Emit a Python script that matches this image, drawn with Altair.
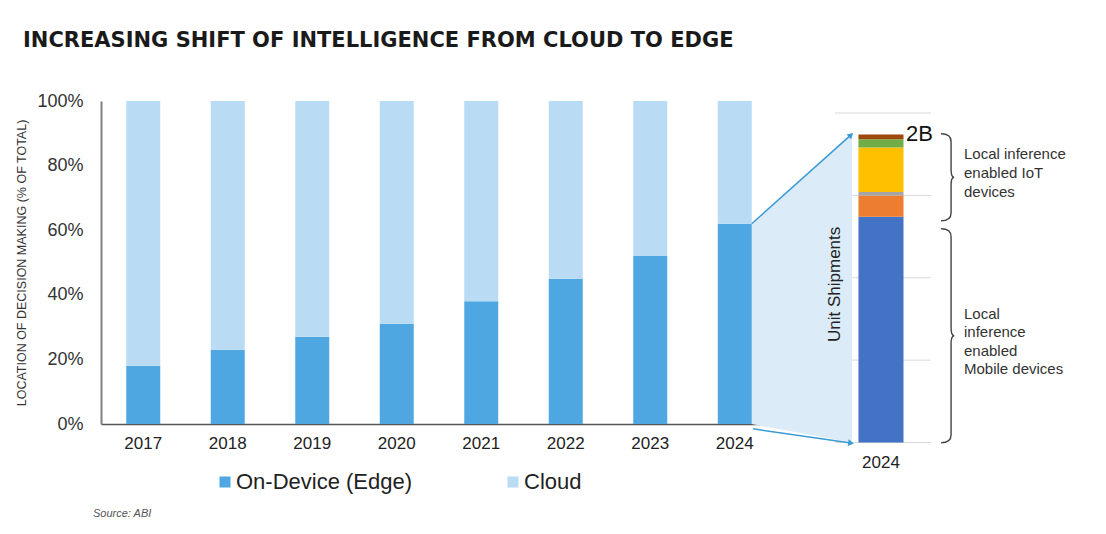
import altair as alt
import pandas as pd

# ---------------- data ----------------
years = ["2017", "2018", "2019", "2020", "2021", "2022", "2023", "2024"]
edge_share = [18, 23, 27, 31, 38, 45, 52, 62]
cloud_share = [82, 77, 73, 69, 62, 55, 48, 38]
series = ["On-Device (Edge)", "Cloud"]
y_ticks = [0, 20, 40, 60, 80, 100]

seg_names = ["Mobile devices", "IoT group 1", "IoT group 2", "IoT group 3", "IoT group 4", "IoT group 5"]
seg_values = [1.37, 0.13, 0.02, 0.27, 0.05, 0.03]
inset_grid = [0, 0.5, 1.0, 1.5, 2.0]
inset_year = "2024"
total_label = "2B"
iot_label = "Local inference\nenabled IoT\ndevices"
mobile_label = "Local\ninference\nenabled\nMobile devices"
inset_axis_title = "Unit Shipments"
source_text = "Source: ABI"
title_text = "INCREASING SHIFT OF INTELLIGENCE FROM CLOUD TO EDGE"
y_title = "LOCATION OF DECISION MAKING (% OF TOTAL)"

# ---------------- styles / layout ----------------
series_colors = ["#4ea7e1", "#b9dbf3"]
seg_colors = ["#4472c4", "#ed7d31", "#a5a5a5", "#ffc000", "#70ad47", "#9e480e"]
FONT = "Liberation Sans"
W, H = 676, 323
PAD_INNER, PAD_OUTER = 0.598, 0.299
n = len(years)
bar_right = n - 1 + PAD_OUTER + (1 - PAD_INNER)
INSET_X = (8.964, 9.497)
INSET_GRID_X = (8.686, 9.822)
INSET_RANGE = [341.5, 12]
SHADE_RIGHT = 8.888
ARROW_TIP = 8.876

xs = alt.Scale(domain=[0, n], nice=False, zero=False)
ys = alt.Scale(domain=[0, 100], nice=False)
ry = alt.Scale(domain=[0, 2.0], range=INSET_RANGE, nice=False)

# main table
rows = []
for yr, e, c in zip(years, edge_share, cloud_share):
    rows.append({"year": yr, "series": series[0], "start": 0, "end": e})
    rows.append({"year": yr, "series": series[1], "start": e, "end": e + c})
main_df = pd.DataFrame(rows)

bars = alt.Chart(main_df).mark_bar().encode(
    x=alt.X("year:N", sort=years,
            scale=alt.Scale(paddingInner=PAD_INNER, paddingOuter=PAD_OUTER),
            axis=alt.Axis(title=None, labelAngle=0, labelFontSize=17, labelFont=FONT,
                          labelColor="#222", labelPadding=11, ticks=False,
                          domainColor="#555", domainWidth=1.5)),
    y=alt.Y("start:Q", scale=ys,
            axis=alt.Axis(values=y_ticks, labelExpr="datum.value + '%'", grid=False,
                          ticks=False, labelFontSize=18, labelFont=FONT, labelColor="#333",
                          labelPadding=18, domainColor="#808080", domainWidth=2,
                          title=y_title, titleFont=FONT, titleFontSize=12.5,
                          titleFontWeight="normal", titleColor="#333",
                          titleX=-73, titleY=H / 2, titleBaseline="bottom")),
    y2="end:Q",
    color=alt.Color("series:N", scale=alt.Scale(domain=series, range=series_colors),
                    legend=alt.Legend(title=None, orient="none", legendX=113, legendY=370,
                                      direction="horizontal", symbolType="square",
                                      symbolSize=121, symbolStrokeWidth=0,
                                      labelFontSize=22, labelFont=FONT, labelColor="#222",
                                      labelOffset=0, columnPadding=89, padding=0,
                                      labelLimit=0)),
    order=alt.Order("start:Q"),
)

# inset gridlines
grid_df = pd.DataFrame({"v": inset_grid, "x0": INSET_GRID_X[0], "x1": INSET_GRID_X[1]})
grid = alt.Chart(grid_df).mark_rule(color="#d9d9d9", strokeWidth=1).encode(
    x=alt.X("x0:Q", scale=xs, axis=None), x2="x1:Q",
    y=alt.Y("v:Q", scale=ry, axis=None))

# zoom shading
shade_df = pd.DataFrame({"x": [bar_right, SHADE_RIGHT], "lo": [0, -5.7],
                         "hi": [edge_share[-1], 90.1]})
shade = alt.Chart(shade_df).mark_area(color="#dcebf8").encode(
    x=alt.X("x:Q", scale=xs, axis=None),
    y=alt.Y("lo:Q", scale=ys, axis=None), y2="hi:Q")

# arrows
arrow_df = pd.DataFrame({"x": [bar_right, bar_right + 0.015], "y": [edge_share[-1], -1.5],
                         "x2": [ARROW_TIP, ARROW_TIP], "y2": [89.5, -5.9]})
arrows = alt.Chart(arrow_df).mark_rule(color="#3b9ad4", strokeWidth=1.5).encode(
    x=alt.X("x:Q", scale=xs, axis=None), x2="x2:Q",
    y=alt.Y("y:Q", scale=ys, axis=None), y2="y2:Q")
head_top = alt.Chart(arrow_df.iloc[[0]]).mark_point(
    shape="triangle-right", filled=True, color="#3b9ad4", size=45, opacity=1, angle=317).encode(
    x=alt.X("x2:Q", scale=xs, axis=None), y=alt.Y("y2:Q", scale=ys, axis=None))
head_bot = alt.Chart(arrow_df.iloc[[1]]).mark_point(
    shape="triangle-right", filled=True, color="#3b9ad4", size=45, opacity=1, angle=8).encode(
    x=alt.X("x2:Q", scale=xs, axis=None), y=alt.Y("y2:Q", scale=ys, axis=None))

# inset stacked bar
inset_df = pd.DataFrame({"seg": seg_names, "value": seg_values, "ord": list(range(len(seg_names))),
                         "x0": INSET_X[0], "x1": INSET_X[1]})
inset = alt.Chart(inset_df).transform_window(
    cum="sum(value)", sort=[alt.SortField("ord")], frame=[None, 0]
).transform_calculate(base="datum.cum - datum.value").mark_bar().encode(
    x=alt.X("x0:Q", scale=xs, axis=None), x2="x1:Q",
    y=alt.Y("base:Q", scale=ry, axis=None), y2="cum:Q",
    color=alt.Color("seg:N", scale=alt.Scale(domain=seg_names, range=seg_colors), legend=None))

total = sum(seg_values)
xc = (INSET_X[0] + INSET_X[1]) / 2
txt_df = pd.DataFrame({
    "label": [total_label, inset_axis_title, inset_year, iot_label, mobile_label],
    "x": [INSET_X[1] + 0.03, INSET_GRID_X[0], xc, 10.213, 10.213],
    "y": [total, 0.96, 0.0, 1.751, 0.78],
})
t_2b = alt.Chart(txt_df.iloc[[0]]).mark_text(align="left", baseline="middle", fontSize=22,
                                             font=FONT, color="#111").encode(
    x=alt.X("x:Q", scale=xs, axis=None), y=alt.Y("y:Q", scale=ry, axis=None), text="label:N")
t_unit = alt.Chart(txt_df.iloc[[1]]).mark_text(align="center", baseline="middle", fontSize=17,
                                               font=FONT, color="#222", angle=270).encode(
    x=alt.X("x:Q", scale=xs, axis=None), y=alt.Y("y:Q", scale=ry, axis=None), text="label:N")
t_year = alt.Chart(txt_df.iloc[[2]]).mark_text(align="center", baseline="top", fontSize=17,
                                               font=FONT, color="#222", dy=12).encode(
    x=alt.X("x:Q", scale=xs, axis=None), y=alt.Y("y:Q", scale=ry, axis=None), text="label:N")
t_iot = alt.Chart(txt_df.iloc[[3]]).mark_text(align="left", baseline="middle", fontSize=15,
                                              font=FONT, color="#333", lineBreak="\n",
                                              lineHeight=19).encode(
    x=alt.X("x:Q", scale=xs, axis=None), y=alt.Y("y:Q", scale=ry, axis=None), text="label:N")
t_mob = alt.Chart(txt_df.iloc[[4]]).mark_text(align="left", baseline="middle", fontSize=15,
                                              font=FONT, color="#333", lineBreak="\n",
                                              lineHeight=18.5).encode(
    x=alt.X("x:Q", scale=xs, axis=None), y=alt.Y("y:Q", scale=ry, axis=None), text="label:N")

# braces
def brace(w, r, t):
    return (f"M {-w},-1 Q 0,-1 0,{-(1 - r)} L 0,{-r} Q 0,0 {t},0 Q 0,0 0,{r} "
            f"L 0,{1 - r} Q 0,1 {-w},1")

brace_df = pd.DataFrame({"x": [10.06, 10.06], "y": [1.61, 0.648]})
b_up = alt.Chart(brace_df.iloc[[0]]).mark_point(
    shape=brace(0.23, 0.18, 0.07), filled=False, color="#444", strokeWidth=1.4,
    size=87 ** 2, opacity=1).encode(
    x=alt.X("x:Q", scale=xs, axis=None), y=alt.Y("y:Q", scale=ry, axis=None))
b_lo = alt.Chart(brace_df.iloc[[1]]).mark_point(
    shape=brace(0.093, 0.075, 0.03), filled=False, color="#444", strokeWidth=1.4,
    size=214 ** 2, opacity=1).encode(
    x=alt.X("x:Q", scale=xs, axis=None), y=alt.Y("y:Q", scale=ry, axis=None))

src = alt.Chart(pd.DataFrame({"label": [source_text]})).mark_text(
    align="left", baseline="middle", fontSize=11, font=FONT, fontStyle="italic",
    color="#555").encode(x=alt.value(-8), y=alt.value(413), text="label:N")

chart = alt.layer(
    grid, shade, bars, arrows, head_top, head_bot, inset,
    t_2b, t_unit, t_year, t_iot, t_mob, b_up, b_lo, src
).resolve_scale(
    x="independent", y="independent", color="independent"
).properties(
    width=W, height=H,
    padding={"left": 15, "top": 30, "right": 5, "bottom": 5},
    title=alt.TitleParams(text=title_text, anchor="start", font="DejaVu Sans", fontSize=21,
                          fontWeight="bold", color="#1a1a1a", offset=41, dx=8),
).configure(background="#ffffff", view=alt.ViewConfig(stroke=None))

chart.save("out.html", embed_options={"renderer": "svg", "actions": False})
